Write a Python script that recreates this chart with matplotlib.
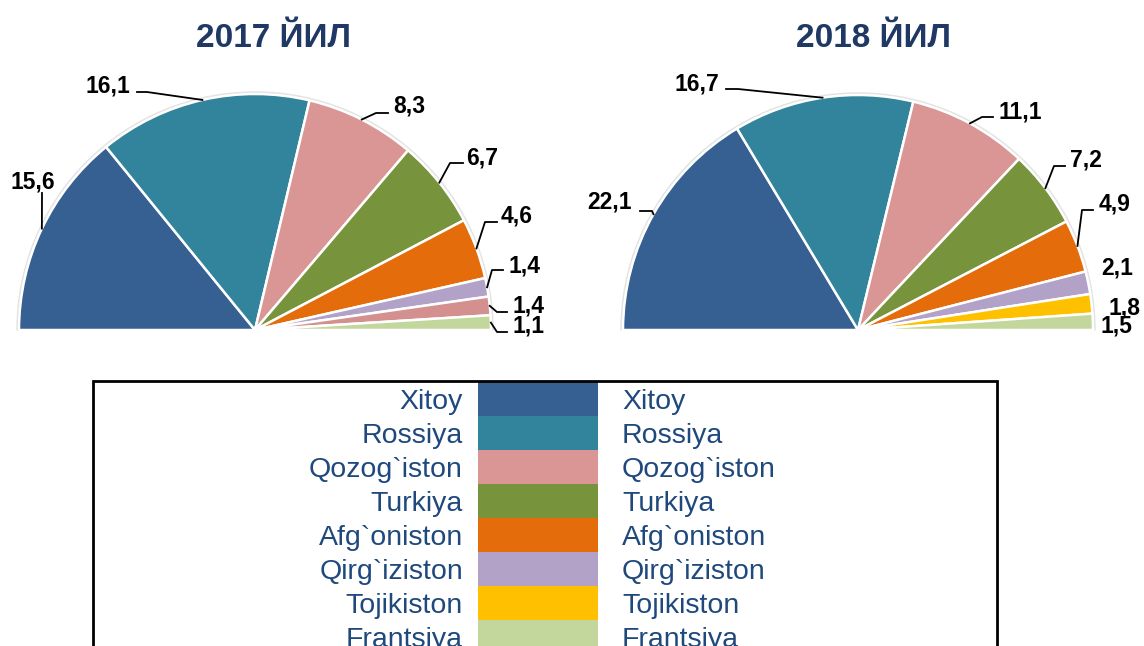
import matplotlib
matplotlib.use('Agg')
import matplotlib.pyplot as plt
from matplotlib.patches import Rectangle, Wedge
import numpy as np

plt.rcParams['font.family'] = ['Liberation Sans', 'DejaVu Sans']

# data
countries = ['Xitoy', 'Rossiya', 'Qozog`iston', 'Turkiya', 'Afg`oniston',
             'Qirg`iziston', 'Tojikiston', 'Frantsiya']
colors = ['#376092', '#31849B', '#D99694', '#77933C', '#E46C0A',
          '#B3A2C7', '#FFC000', '#C3D69B']
colors_2017 = ['#376092', '#31849B', '#D99694', '#77933C', '#E46C0A',
               '#B3A2C7', '#D4908E', '#C3D69B']
values_2017 = [15.6, 16.1, 8.3, 6.7, 4.6, 1.4, 1.4, 1.1]
values_2018 = [22.1, 16.7, 11.1, 7.2, 4.9, 2.1, 1.8, 1.5]
titles = ['2017 ЙИЛ', '2018 ЙИЛ']

H = 646
title_color = '#1F3864'
legend_color = '#1F497D'

# label layout (image pixels): text centre and leader line points after the arc point
layout_2017 = [
    ((33, 180), [(42, 193)]),
    ((108, 85), [(147, 92), (137, 92)]),
    ((409, 104), [(376, 113), (388, 113)]),
    ((482, 156), [(450, 163), (463, 163)]),
    ((517, 215), [(485, 222), (497, 222)]),
    ((524, 264), [(492, 270), (503, 270)]),
    ((529, 305), [(497, 312), (507, 312)]),
    ((528, 325), [(497, 332), (507, 332)]),
]
layout_2018 = [
    ((610, 201), [(652, 211), (640, 211)]),
    ((697, 82), [(738, 89), (726, 89)]),
    ((1020, 110), [(982, 117), (993, 117)]),
    ((1086, 158), [(1054, 166), (1065, 166)]),
    ((1115, 203), [(1082, 210), (1093, 210)]),
    ((1117, 267), []),
    ((1125, 306), []),
    ((1116, 325), []),
]


def draw_half_pie(ax, values, cols, cx, cy, r, layout):
    vals = values + [sum(values)]
    center = (cx, H - cy)
    ax.add_patch(Wedge(center, r + 2, 0, 180, width=4, color='#e3e3e3', zorder=0))
    wedges, _ = ax.pie(vals, colors=cols + ['white'], startangle=180, counterclock=False,
                       center=center, radius=r, frame=True,
                       wedgeprops=dict(edgecolor='white', linewidth=1.8))
    wedges[-1].set_visible(False)
    for w, v, ((tx, ty), pts) in zip(wedges[:-1], values, layout):
        mid = np.deg2rad((w.theta1 + w.theta2) / 2)
        px, py = cx + r * np.cos(mid), cy - r * np.sin(mid)
        if pts:
            xs = [px] + [p[0] for p in pts]
            ys = [H - py] + [H - p[1] for p in pts]
            ax.plot(xs, ys, color='black', lw=1.3, zorder=5)
        ax.text(tx, H - ty - 8, f'{v:.1f}'.replace('.', ','), ha='center', va='baseline',
                fontsize=16.5, fontweight='bold', color='black', zorder=6)


fig = plt.figure(figsize=(11.44, 6.46), dpi=100)
ax = fig.add_axes([0, 0, 1, 1])

draw_half_pie(ax, values_2017, colors_2017, 255, 330, 236, layout_2017)
draw_half_pie(ax, values_2018, colors, 858, 330, 235, layout_2018)

ax.text(274, H - 47, titles[0], ha='center', va='baseline', fontsize=24,
        fontweight='bold', color=title_color)
ax.text(873, H - 47, titles[1], ha='center', va='baseline', fontsize=24,
        fontweight='bold', color=title_color)

# legend box
ax.add_patch(Rectangle((93, H - 700), 904, 700 - 381, fill=False, edgecolor='black',
                       lw=2, zorder=3, clip_on=False))
for i, (name, col) in enumerate(zip(countries, colors)):
    top = 382 + 34 * i
    ax.add_patch(Rectangle((478, H - top - 34), 120, 34, color=col, lw=0, zorder=2))
    yb = H - (top + 17) - 10
    ax.text(463, yb, name, ha='right', va='baseline', fontsize=20.5, color=legend_color)
    ax.text(622, yb, name, ha='left', va='baseline', fontsize=20.5, color=legend_color)

ax.set_xlim(0, 1144)
ax.set_ylim(0, H)
ax.set_aspect('auto')
ax.axis('off')

fig.savefig('out.png', dpi=100)
